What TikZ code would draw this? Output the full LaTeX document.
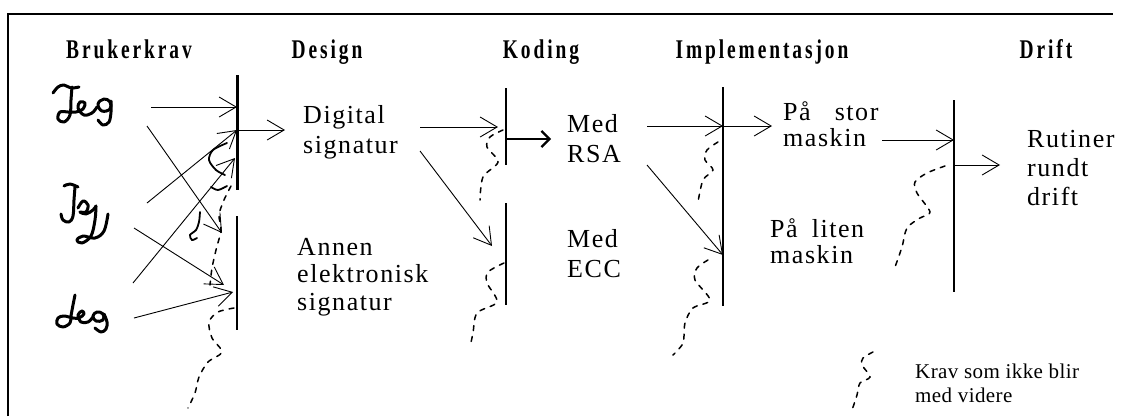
\documentclass[tikz,border=0pt]{standalone}
\usepackage{fontspec}
\setmainfont{Liberation Serif}
\newfontfamily\bodyfont[LetterSpace=6]{Liberation Serif}
\newfontfamily\headfont[LetterSpace=15]{Liberation Serif}
\newfontfamily\notefont[LetterSpace=2]{Liberation Serif}
\usetikzlibrary{arrows.meta}

\newcommand{\phasename}[1]{\scalebox{0.72}[1]{#1}}

\tikzset{
  hdr/.style={anchor=base, inner sep=0pt, font=\headfont\bfseries\fontsize{27}{27}\selectfont},
  lbl/.style={anchor=base west, inner sep=0pt, align=left, font=\bodyfont\fontsize{26}{30}\selectfont},
  note/.style={anchor=base west, inner sep=0pt, align=left, font=\notefont\fontsize{21}{24}\selectfont},
  frame/.style={line width=2.4pt},
  gate/.style={line width=1.3pt},
  gatebold/.style={line width=3pt},
  flow/.style={line width=0.9pt, -{Straight Barb[length=17pt,width=20pt,line width=0.9pt]}},
  flowbold/.style={line width=2.4pt, -{Straight Barb[length=8pt,width=16pt,line width=2.2pt]}},
  dropped/.style={line width=1.5pt, dash pattern=on 5pt off 6pt, line cap=round},
  scrawl/.style={line width=1.8pt, line cap=round},
  sig/.style={line width=3pt, line cap=round, line join=round}
}

\begin{document}
\begin{tikzpicture}[x=1pt,y=-1pt]
\useasboundingbox (0,0) rectangle (1125,416);

% open frame: left and top edges
\draw[frame] (8,416) -- (8,14) -- (1113,14);

% phase headings
\node[hdr] (hBruk) at (129,58) {\phasename{Brukerkrav}};
\node[hdr] (hDes)  at (327,58) {\phasename{Design}};
\node[hdr] (hKod)  at (541,58) {\phasename{Koding}};
\node[hdr] (hImp)  at (762,58) {\phasename{Implementasjon}};
\node[hdr] (hDri)  at (1046,58) {\phasename{Drift}};

% handwritten requirements
\draw[sig] plot[smooth,tension=0.6] coordinates {(53,93)(58,87)(64,85)(71,88)(79,87)};
\draw[sig] plot[smooth,tension=0.6] coordinates {(72,87)(71,100)(70,115)(64,122)(58,119)(60,112)(68,112)(76,112)(83,109)(85,103)(80,102)(78,108)(84,115)(92,113)(97,107)};
\draw[sig] plot[smooth cycle,tension=0.7] coordinates {(98,104)(104,99)(110,102)(110,109)(102,111)};
\draw[sig] plot[smooth,tension=0.6] coordinates {(111,101)(111,112)(109,122)(103,125)(98,120)};

\draw[sig] plot[smooth,tension=0.6] coordinates {(64,186)(70,184)(78,187)};
\draw[sig] plot[smooth,tension=0.6] coordinates {(75,187)(74,200)(73,216)(69,222)(63,220)(61,214)};
\draw[sig] plot[smooth,tension=0.6] coordinates {(78,208)(83,201)(88,205)(86,212)(80,212)(86,214)(93,210)(96,206)};
\draw[sig] plot[smooth,tension=0.6] coordinates {(96,206)(95,220)(91,236)(82,243)(77,240)(83,236)(95,238)(104,231)(108,214)};

\draw[sig] plot[smooth,tension=0.6] coordinates {(75,295)(73,305)(71,316)(70,323)(63,327)(57,324)(58,318)(64,316)(73,318)(79,318)(84,314)(82,311)(78,315)(81,322)(88,322)(93,317)};
\draw[sig] plot[smooth cycle,tension=0.7] coordinates {(93,316)(97,312)(103,314)(103,320)(96,321)};
\draw[sig] plot[smooth,tension=0.6] coordinates {(104,314)(107,322)(106,329)(101,332)(95,328)};

% phase gates
\coordinate (b1t) at (237,75);  \coordinate (b1m) at (237,190);
\coordinate (b1u) at (237,216); \coordinate (b1l) at (237,330);
\coordinate (b2t) at (506,88);  \coordinate (b2m) at (506,165);
\coordinate (b2u) at (506,203); \coordinate (b2l) at (506,305);
\coordinate (b3t) at (723,87);  \coordinate (b3l) at (723,306);
\coordinate (b4t) at (954,100); \coordinate (b4l) at (954,292);
\draw[gatebold] (b1t) -- (b1m);
\draw[gate] (b1u) -- (b1l);
\draw[gate] (b2t) -- (b2m);
\draw[gate] (b2u) -- (b2l);
\draw[gate] (b3t) -- (b3l);
\draw[gate] (b4t) -- (b4l);

% phase contents (node placed at the baseline of its last line)
\node[lbl] (digsig) at (303,153) {Digital\\signatur};
\node[lbl] (annen)  at (297,310) {Annen\\[-2.5pt]elektronisk\\[-2.5pt]signatur};
\node[lbl] (rsa)    at (567,162) {Med\\RSA};
\node[lbl] (ecc)    at (567,277) {Med\\ECC};
\node[lbl] (stor)   at (783,146) {På\hspace{24pt}stor\\[-4pt]maskin};
\node[lbl] (liten)  at (770,263) {På\hspace{14pt}liten\\[-4pt]maskin};
\node[lbl] (rutine) at (1027,205) {Rutiner\\[-1pt]rundt\\[-1pt]drift};
\node[note] (legend) at (915,402) {Krav som ikke blir\\med videre};

% arrow end points
\coordinate (s1a) at (151,107); \coordinate (t1a) at (237,107);
\coordinate (s1b) at (147,126); \coordinate (t1b) at (222,233);
\coordinate (s2a) at (147,203); \coordinate (t1c) at (237,130);
\coordinate (s2b) at (134,228); \coordinate (t1d) at (224,285);
\coordinate (s3a) at (133,283); \coordinate (t1e) at (235,158);
\coordinate (s3b) at (134,318); \coordinate (t1f) at (233,292);
\coordinate (o1) at (285,130);
\coordinate (d1) at (420,127); \coordinate (t2a) at (498,127);
\coordinate (d2) at (420,151); \coordinate (t2b) at (492,246);
\coordinate (o2s) at (506,139); \coordinate (o2) at (551,139);
\coordinate (r1) at (647,126); \coordinate (t3a) at (723,126);
\coordinate (r2) at (647,165); \coordinate (t3b) at (723,255);
\coordinate (o3) at (772,126);
\coordinate (p1) at (882,140); \coordinate (t4a) at (954,140);
\coordinate (o4s) at (954,165); \coordinate (o4) at (1000,165);

% requirements into design
\draw[flow] (s1a) -- (t1a);
\draw[flow] (s1b) -- (t1b);
\draw[flow] (s2a) -- (t1c);
\draw[flow] (s2b) -- (t1d);
\draw[flow] (s3a) -- (t1e);
\draw[flow] (s3b) -- (t1f);
\draw[flow] (t1c) -- (o1);
% design into coding
\draw[flow] (d1) -- (t2a);
\draw[flow] (d2) -- (t2b);
\draw[flowbold] (o2s) -- (o2);
% coding into implementation
\draw[flow] (r1) -- (t3a);
\draw[flow] (r2) -- (t3b);
\draw[flow] (t3a) -- (o3);
% implementation into operation
\draw[flow] (p1) -- (t4a);
\draw[flow] (o4s) -- (o4);

% requirements that drop out
\draw[scrawl] plot[smooth] coordinates {(227,143)(213,150)(209,160)(216,170)(225,175)};
\draw[scrawl] plot[smooth] coordinates {(211,187)(218,190)(227,186)};
\draw[scrawl] plot[smooth] coordinates {(200,212)(199,222)(196,230)(190,235)(192,240)(197,238)};
\draw[dropped] plot[smooth] coordinates {(231,186)(224,200)(219,215)(221,230)(216,250)(212,268)(210,285)};
\draw[dropped] plot[smooth] coordinates {(234,308)(218,312)(209,322)(212,338)(222,352)(208,362)(199,377)(195,393)(188,408)};

\draw[dropped] plot[smooth] coordinates {(503,130)(490,137)(487,147)(498,162)(483,177)(480,200)};
\draw[dropped] plot[smooth] coordinates {(504,263)(488,272)(487,283)(497,302)(477,313)(473,333)(470,347)};

\draw[dropped] plot[smooth] coordinates {(718,142)(707,150)(705,160)(713,170)(703,180)(698,202)};
\draw[dropped] plot[smooth] coordinates {(708,260)(697,268)(695,280)(710,300)(693,308)(685,323)(683,343)(673,355)};

\draw[dropped] plot[smooth] coordinates {(945,166)(927,173)(915,182)(917,193)(930,212)(920,218)(907,228)(902,247)(895,267)};

% legend sample
\draw[dropped] plot[smooth] coordinates {(873,352)(863,358)(862,365)(870,377)(860,383)(857,395)(852,410)};
\end{tikzpicture}
\end{document}
